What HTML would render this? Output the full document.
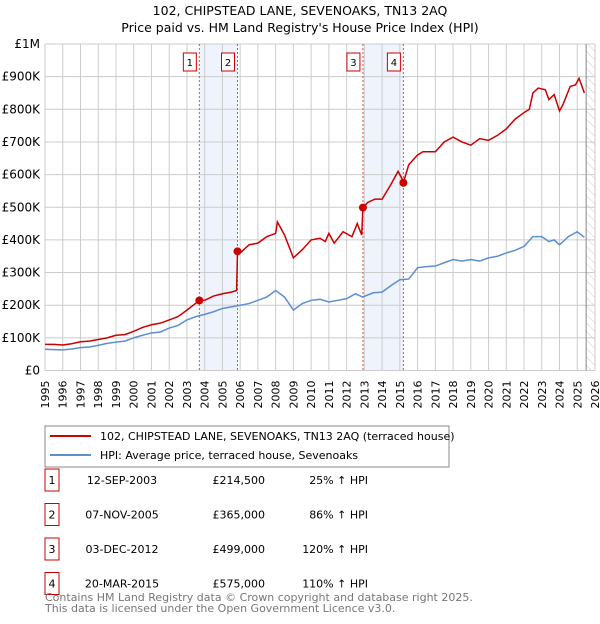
<!DOCTYPE html>
<html><head><meta charset="utf-8"><style>
body{margin:0;background:#fff;font-family:"DejaVu Sans","Liberation Sans",sans-serif;}
svg text{font-family:"DejaVu Sans","Liberation Sans",sans-serif;}
</style></head><body>
<svg id="c" width="600" height="620" xmlns="http://www.w3.org/2000/svg">
<defs><pattern id="hatch" width="6" height="6" patternUnits="userSpaceOnUse" patternTransform="rotate(-45)"><line x1="0" y1="0" x2="0" y2="6" stroke="#ccc" stroke-width="1"/></pattern></defs>
<text x="300" y="15" text-anchor="middle" font-size="12.5">102, CHIPSTEAD LANE, SEVENOAKS, TN13 2AQ</text>
<text x="300" y="32" text-anchor="middle" font-size="12.5">Price paid vs. HM Land Registry's House Price Index (HPI)</text>
<g id="plot"></g>
<rect x="45" y="426" width="404" height="41" fill="#fff" stroke="#888"/>
<line x1="50" y1="436" x2="91" y2="436" stroke="#cc0000" stroke-width="2"/>
<text x="100" y="440" font-size="11">102, CHIPSTEAD LANE, SEVENOAKS, TN13 2AQ (terraced house)</text>
<line x1="50" y1="455" x2="91" y2="455" stroke="#5b8fd0" stroke-width="2"/>
<text x="100" y="459" font-size="11">HPI: Average price, terraced house, Sevenoaks</text>
<g id="table" font-size="11"></g>
<text x="45" y="601" font-size="11" fill="#777">Contains HM Land Registry data © Crown copyright and database right 2025.</text>
<text x="45" y="612" font-size="11" fill="#777">This data is licensed under the Open Government Licence v3.0.</text>
</svg>
<script>
const yTicks=[0,100,200,300,400,500,600,700,800,900,1000];
const yTickLabels=["£0","£100K","£200K","£300K","£400K","£500K","£600K","£700K","£800K","£900K","£1M"];
const years=[1995,1996,1997,1998,1999,2000,2001,2002,2003,2004,2005,2006,2007,2008,2009,2010,2011,2012,2013,2014,2015,2016,2017,2018,2019,2020,2021,2022,2023,2024,2025,2026];
const priceT=[1995,1995.5,1996,1996.5,1997,1997.5,1998,1998.5,1999,1999.5,2000,2000.5,2001,2001.5,2002,2002.5,2003,2003.7,2004,2004.5,2005,2005.5,2005.8,2005.85,2006,2006.5,2007,2007.5,2008,2008.1,2008.5,2009,2009.5,2010,2010.5,2010.8,2011,2011.3,2011.8,2012.3,2012.6,2012.85,2012.92,2013.2,2013.6,2014,2014.5,2014.9,2015.1,2015.2,2015.5,2016,2016.3,2017,2017.5,2018,2018.5,2019,2019.5,2020,2020.5,2021,2021.5,2022,2022.3,2022.5,2022.8,2023.2,2023.4,2023.7,2024,2024.2,2024.6,2024.9,2025.1,2025.4];
const priceV=[80,80,78,82,88,90,95,100,108,110,120,132,140,145,155,165,185,214.5,215,228,235,240,245,365,360,385,390,410,420,455,415,345,370,400,405,395,420,390,425,410,450,415,499,515,525,525,570,610,590,575,630,660,670,670,700,715,700,690,710,705,720,740,770,790,800,850,865,860,830,845,795,815,870,875,895,850];
const hpiT=[1995,1995.5,1996,1996.5,1997,1997.5,1998,1998.5,1999,1999.5,2000,2000.5,2001,2001.5,2002,2002.5,2003,2003.5,2004,2004.5,2005,2005.5,2006,2006.5,2007,2007.5,2008,2008.5,2009,2009.5,2010,2010.5,2011,2011.5,2012,2012.5,2012.9,2013.5,2014,2014.5,2015,2015.5,2016,2016.5,2017,2017.5,2018,2018.5,2019,2019.5,2020,2020.5,2021,2021.5,2022,2022.5,2023,2023.4,2023.7,2024,2024.5,2025,2025.4];
const hpiV=[65,64,63,66,70,72,77,83,87,90,100,108,115,118,130,138,155,165,172,180,190,195,200,205,215,225,245,225,185,205,215,218,210,215,220,235,225,238,240,260,278,280,315,318,320,330,340,335,340,335,345,350,360,368,380,410,410,395,400,385,410,425,408];
const sales=[{n:"1",t:2003.7,v:214.5,d:"12-SEP-2003",p:"£214,500",h:"25% ↑ HPI"},{n:"2",t:2005.85,v:365,d:"07-NOV-2005",p:"£365,000",h:"86% ↑ HPI"},{n:"3",t:2012.92,v:499,d:"03-DEC-2012",p:"£499,000",h:"120% ↑ HPI"},{n:"4",t:2015.2,v:575,d:"20-MAR-2015",p:"£575,000",h:"110% ↑ HPI"}];
const X0=45,X1=595,Y0=370.5,Y1=44;
const x=t=>X0+(t-1995)/(2026-1995)*(X1-X0);
const y=v=>Y0-v/1000*(Y0-Y1);
const NS="http://www.w3.org/2000/svg";
const g=document.getElementById('plot');
function mk(tag,attrs,parent){const e=document.createElementNS(NS,tag);for(const k in attrs)e.setAttribute(k,attrs[k]);(parent||g).appendChild(e);return e;}
// shaded bands
[[0,1],[2,3]].forEach(([a,b],i)=>{const r=mk('rect',{x:x(sales[a].t),y:Y1,width:x(sales[b].t)-x(sales[a].t),height:Y0-Y1,fill:'#eef3fc'});

});
// hatch future
const hz=mk('rect',{x:x(2025.5),y:Y1,width:X1-x(2025.5),height:Y0-Y1,fill:'url(#hatch)'});


// grid
years.forEach(yr=>{const l=mk('line',{x1:x(yr),x2:x(yr),y1:Y1,y2:Y0,stroke:'#ccc'});


const tx=x(yr)+4,ty=Y0+10;
const t=mk('text',{x:tx,y:ty,'font-size':11,'text-anchor':'end',transform:`rotate(-90 ${tx} ${ty})`});t.textContent=yr;

});
yTicks.forEach((v,i)=>{const l=mk('line',{x1:X0,x2:X1,y1:y(v),y2:y(v),stroke:'#ccc'});


const t=mk('text',{x:X0-5,y:y(v)+4,'font-size':12,'text-anchor':'end'});t.textContent=yTickLabels[i];

});
const dl=mk('line',{x1:x(2025.5),x2:x(2025.5),y1:Y1,y2:Y0,stroke:'#888'});


// sale markers lines
sales.forEach(s=>{const l=mk('line',{x1:x(s.t),x2:x(s.t),y1:Y1,y2:Y0,stroke:'#e05050','stroke-dasharray':'2,2'});


const r=mk('rect',{x:x(s.t)-16,y:53,width:13,height:18,fill:'#fff',stroke:'#cc0000'});


const t=mk('text',{x:x(s.t)-9.5,y:66,'font-size':10,'text-anchor':'middle'});t.textContent=s.n;

});
const hp=mk('polyline',{points:hpiT.map((t,i)=>x(t)+','+y(hpiV[i])).join(' '),fill:'none',stroke:'#5b8fd0','stroke-width':1.5});


const pp=mk('polyline',{points:priceT.map((t,i)=>x(t)+','+y(priceV[i])).join(' '),fill:'none',stroke:'#cc0000','stroke-width':1.5});


sales.forEach(s=>{const c=mk('circle',{cx:x(s.t),cy:y(s.v),r:4,fill:'#cc0000'});

});
const tb=document.getElementById('table');
sales.forEach((s,i)=>{const yy=482+i*34.5;
const r=mk('rect',{x:45,y:yy-13,width:14,height:22,fill:'#fff',stroke:'#cc0000'},tb);


[[52,s.n,'middle','num'],[122,s.d,'middle','date'],[265,s.p,'end','price'],[368,s.h,'end','hpi']].forEach(([xx,txt,a,nm])=>{
const t=mk('text',{x:xx,y:yy+2,'text-anchor':a},tb);t.textContent=txt;

});});
</script>
</body></html>
